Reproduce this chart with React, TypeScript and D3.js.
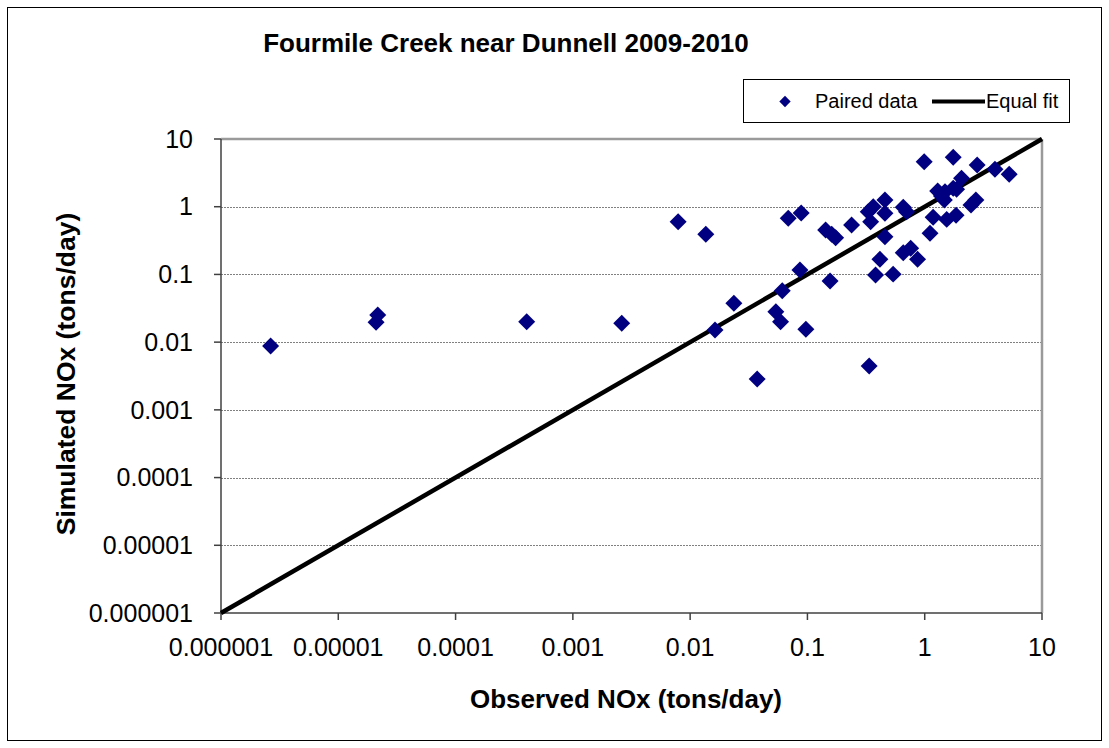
import * as d3 from "d3";

const observed = [
  2.65e-6, 2.1e-5, 2.17e-5, 4.04e-4, 2.61e-3, 0.0079, 0.0136, 0.0163, 0.0236, 0.0373,
  0.0538, 0.059, 0.061, 0.0686, 0.0863, 0.0885, 0.097, 0.143, 0.156, 0.161,
  0.174, 0.238, 0.336, 0.33, 0.364, 0.346, 0.458, 0.458, 0.458, 0.381,
  0.415, 0.538, 0.656, 0.7, 0.656, 0.759, 0.869, 0.99, 1.11, 1.18,
  1.54, 1.85, 1.29, 1.39, 1.49, 1.47, 1.75, 1.87, 2.06, 1.75,
  2.48, 2.73, 2.8, 3.97, 5.25,
];
const simulated = [
  0.00875, 0.0196, 0.0251, 0.02, 0.019, 0.6, 0.391, 0.0151, 0.0374, 0.00285,
  0.0281, 0.02, 0.0574, 0.674, 0.116, 0.807, 0.0155, 0.453, 0.08, 0.391,
  0.348, 0.537, 0.00444, 0.844, 1.0, 0.6, 1.26, 0.8, 0.36, 0.098,
  0.167, 0.101, 0.98, 0.844, 0.209, 0.243, 0.167, 4.62, 0.405, 0.7,
  0.65, 0.75, 1.71, 1.44, 1.67, 1.26, 1.87, 1.81, 2.63, 5.37,
  1.06, 1.26, 4.13, 3.57, 3.01,
];
const tickValues = [0.000001, 0.00001, 0.0001, 0.001, 0.01, 0.1, 1, 10];
const tickLabels = ["0.000001", "0.00001", "0.0001", "0.001", "0.01", "0.1", "1", "10"];
const fitLine = [0.000001, 10];

const W = 1109;
const H = 748;
const plot = { left: 221, right: 1042, top: 139, bottom: 613 };
const font = "'Liberation Sans', Arial, sans-serif";

export default function App() {
  const x = d3.scaleLog().domain([1e-6, 10]).range([plot.left, plot.right]);
  const y = d3.scaleLog().domain([1e-6, 10]).range([plot.bottom, plot.top]);

  const points = observed.map((o, i) => ({ o, s: simulated[i] }));
  const diamond = d3.symbol(d3.symbolSquare, 144)() || "";
  const smallDiamond = d3.symbol(d3.symbolSquare, 64)() || "";
  const line = d3
    .line<number>()
    .x((d) => x(d))
    .y((d) => y(d));

  return (
    <svg
      width={W}
      height={H}
      style={{ position: "absolute", left: 0, top: 0, background: "#fff" }}
      fontFamily={font}
    >
      <rect x={7.5} y={7.5} width={1094} height={733} fill="#fff" stroke="#000" strokeWidth={1} />

      {/* gridlines */}
      {tickValues.slice(1, -1).map((t) => (
        <line
          key={"g" + t}
          x1={plot.left}
          x2={plot.right}
          y1={Math.round(y(t)) + 0.5}
          y2={Math.round(y(t)) + 0.5}
          stroke="#808080"
          strokeWidth={1}
          strokeDasharray="2,1"
        />
      ))}

      {/* plot frame: top & right gray */}
      <line x1={plot.left} x2={plot.right} y1={plot.top} y2={plot.top} stroke="#9a9a9a" strokeWidth={2.5} />
      <line x1={plot.right} x2={plot.right} y1={plot.top} y2={plot.bottom} stroke="#9a9a9a" strokeWidth={2.5} />

      {/* axes */}
      <line x1={plot.left} x2={plot.left} y1={plot.top} y2={plot.bottom} stroke="#404040" strokeWidth={1.5} />
      <line x1={plot.left} x2={plot.right} y1={plot.bottom} y2={plot.bottom} stroke="#404040" strokeWidth={1.5} />
      {tickValues.map((t, i) => (
        <g key={"t" + t}>
          <line x1={plot.left - 7} x2={plot.left} y1={y(t)} y2={y(t)} stroke="#404040" strokeWidth={1.5} />
          <line x1={x(t)} x2={x(t)} y1={plot.bottom} y2={plot.bottom + 7} stroke="#404040" strokeWidth={1.5} />
          <text x={193} y={y(t)} dy="0.35em" textAnchor="end" fontSize={25} fill="#000">
            {tickLabels[i]}
          </text>
          <text x={x(t)} y={656} textAnchor="middle" fontSize={25} fill="#000">
            {tickLabels[i]}
          </text>
        </g>
      ))}

      {/* equal fit line */}
      <path d={line(fitLine) || ""} fill="none" stroke="#000" strokeWidth={4.5} />

      {/* paired data */}
      {points.map((p, i) => (
        <path
          key={"p" + i}
          d={diamond}
          transform={`translate(${x(p.o)},${y(p.s)}) rotate(45)`}
          fill="#000080"
        />
      ))}

      {/* title */}
      <text x={506} y={52} textAnchor="middle" fontSize={26} fontWeight="bold" fill="#000">
        Fourmile Creek near Dunnell 2009-2010
      </text>

      {/* axis titles */}
      <text x={626} y={708} textAnchor="middle" fontSize={26} fontWeight="bold" fill="#000">
        Observed NOx (tons/day)
      </text>
      <text
        transform="translate(75,374) rotate(-90)"
        textAnchor="middle"
        fontSize={26.5}
        fontWeight="bold"
        fill="#000"
      >
        Simulated NOx (tons/day)
      </text>

      {/* legend */}
      <rect x={743.5} y={79.5} width={326} height={43} fill="#fff" stroke="#000" strokeWidth={1} />
      <path d={smallDiamond} transform="translate(785,101.5) rotate(45)" fill="#000080" />
      <text x={815} y={108} fontSize={20} fill="#000">
        Paired data
      </text>
      <line x1={932} x2={985} y1={101.5} y2={101.5} stroke="#000" strokeWidth={4} />
      <text x={986} y={108} fontSize={20} fill="#000">
        Equal fit
      </text>
    </svg>
  );
}
